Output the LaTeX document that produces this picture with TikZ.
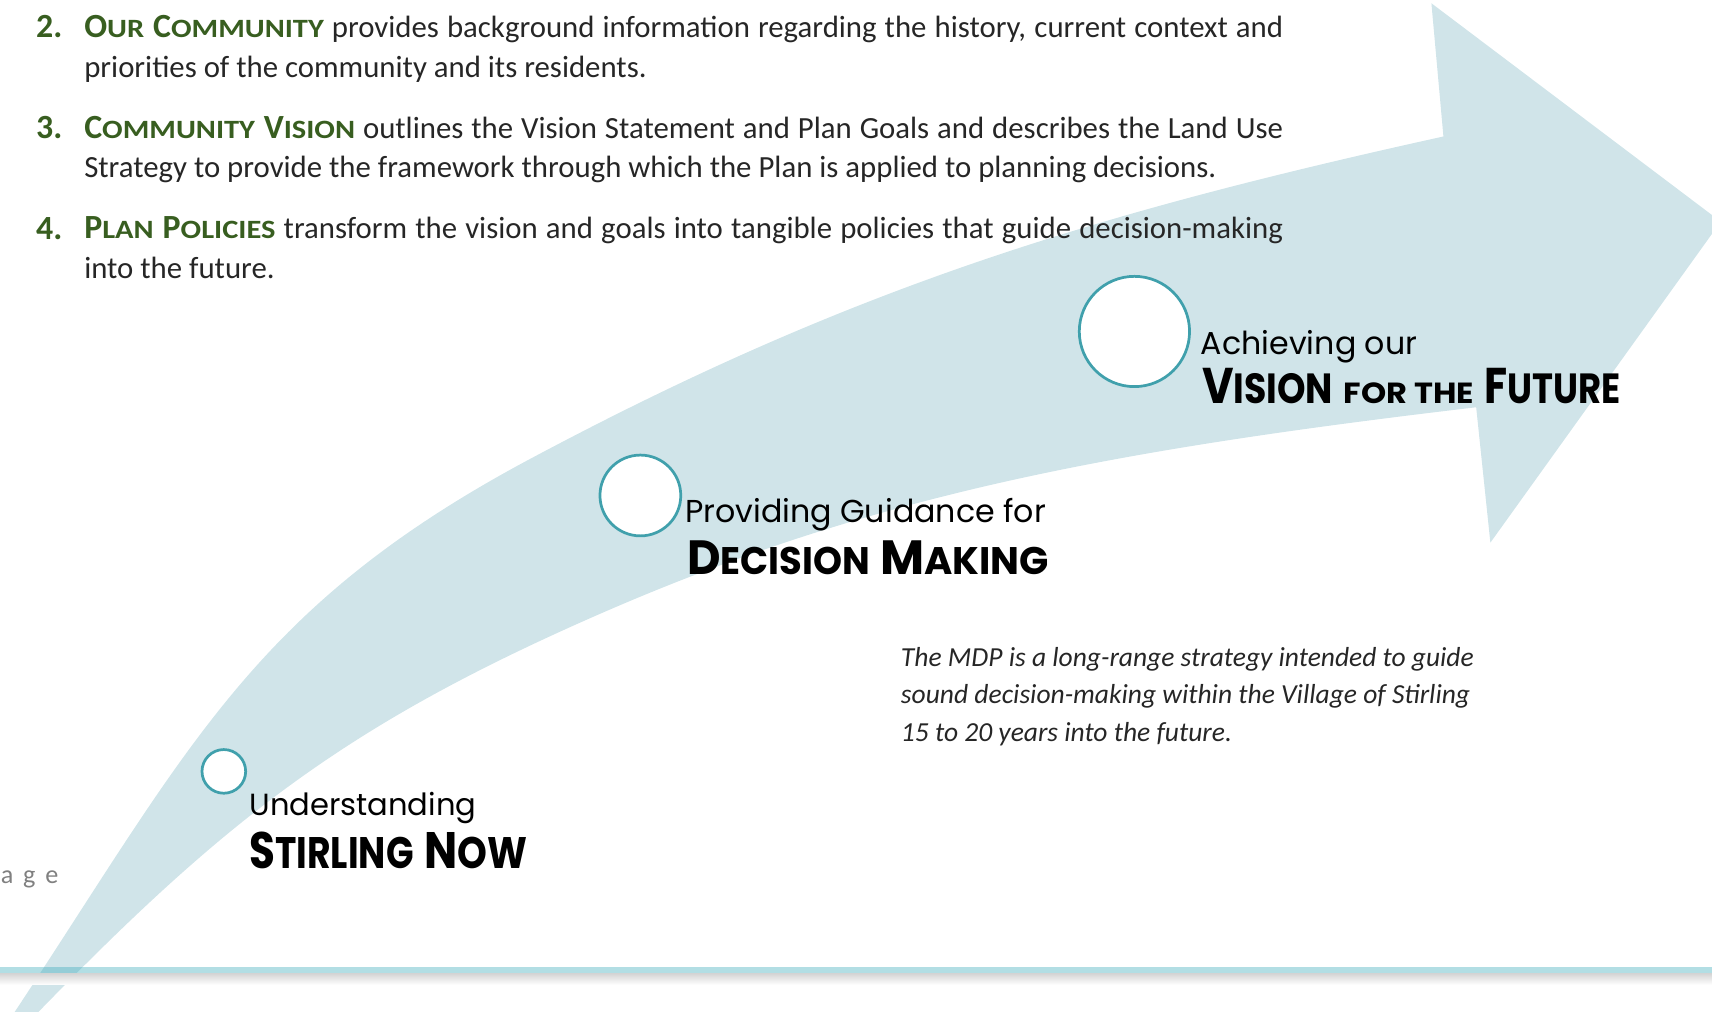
\documentclass[tikz,border=0pt]{standalone}
\usepackage{fontspec}
\setmainfont{Carlito}
\newfontfamily\gothic{Poppins}
\usepackage{graphicx}
\usetikzlibrary{
    calc,
    positioning,
}
\definecolor{BandBlue}{RGB}{208,228,233}
\definecolor{RingTeal}{RGB}{64,160,172}
\definecolor{HeadGreen}{RGB}{56,94,32}
\definecolor{BodyGrey}{RGB}{38,38,38}
\definecolor{RuleTeal}{RGB}{62,172,188}
\newcommand{\sm}[2][0.78]{\scalebox{#1}{#2}}
\newcommand{\hsc}[1]{\scalebox{0.9}[0.78]{#1}}
\newcommand{\squeeze}[2]{\scalebox{#1}[1]{#2}}
\newcommand{\Head}[1]{{\color{HeadGreen}\bfseries\fontsize{31}{36.5}\selectfont #1}}
\tikzstyle{milestone}=[circle,draw=RingTeal,fill=white,line width=2.5pt,inner sep=0pt]
\tikzstyle{itemno}=[anchor=base west,inner sep=0pt,text=HeadGreen,font=\bfseries\fontsize{31}{36.5}\selectfont]
\tikzstyle{itemtext}=[anchor=base west,inner sep=0pt,align=left,text=BodyGrey,font=\fontsize{28.2}{36.5}\selectfont]
\tikzstyle{thin label}=[anchor=base west,inner sep=0pt,font=\gothic\fontsize{29}{29}\selectfont]
\tikzstyle{bold label}=[anchor=base west,inner sep=0pt,font=\gothic\bfseries\fontsize{44}{44}\selectfont]
\begin{document}
\begin{tikzpicture}[x=1pt,y=-1pt]
    \useasboundingbox (0,0) rectangle (1568,926);
    \clip (0,0) rectangle (1568,926);

    % Arrow
    \fill[BandBlue] (5,940) -- (14,926)
        .. controls (174,684) and (232,555) .. (488,419)
        .. controls (779,264) and (1000,196) .. (1322,125)
        -- (1311,3) -- (1576,203) -- (1365,497) -- (1352,373)
        .. controls (1022,412) and (802,452) .. (550,562)
        .. controls (321,662) and (210,747) .. (36,926)
        -- (22,940) -- cycle;

    % Footer rule
    \fill[RuleTeal,opacity=0.4] (0,885.5) rectangle (1568,892);
    \shade[top color=black!16,bottom color=white] (0,892) rectangle (1568,902);
    \node[anchor=base west,inner sep=0pt,text=black!50,font=\fontsize{24}{24}\selectfont] (page) at (0.5,809) {a\hspace{9pt}g\hspace{9pt}e};

    % List (base = last line)
    \node[itemno] (num2) at (33,34) {2.};
    \node[itemtext] (item2) at (77,71) {\makebox[1098pt][s]{\Head{O\hsc{UR} C\hsc{OMMUNITY}} provides background information regarding the history, current context and}\\priorities of the community and its residents.};
    \node[itemno] (num3) at (33,127) {3.};
    \node[itemtext] (item3) at (77,163) {\makebox[1098pt][s]{\Head{C\hsc{OMMUNITY} V\hsc{ISION}} outlines the Vision Statement and Plan Goals and describes the Land Use}\\Strategy to provide the framework through which the Plan is applied to planning decisions.};
    \node[itemno] (num4) at (33,219) {4.};
    \node[itemtext] (item4) at (77,255) {\makebox[1098pt][s]{\Head{P\hsc{LAN} P\hsc{OLICIES}} transform the vision and goals into tangible policies that guide decision-making}\\into the future.};

    % Milestones
    \node[milestone,minimum size=40pt] (now) at (205,706.5) {};
    \node[milestone,minimum size=74pt] (decision) at (586.5,453.8) {};
    \node[milestone,minimum size=101pt] (vision) at (1039,303.6) {};

    \node[thin label,font=\gothic\fontsize{28}{28}\selectfont] (now text) at ([shift={(2,40.5)}]now.east) {Understanding};
    \node[bold label,font=\gothic\bfseries\fontsize{47}{47}\selectfont] (now title) at ([shift={(2,88.5)}]now.east)
        {\squeeze{0.82}{S\sm[0.86]{TIRLING}} \squeeze{0.86}{N\sm[0.86]{OW}}};
    \node[thin label] (decision text) at ([shift={(2.5,25)}]decision.east) {Providing Guidance for};
    \node[bold label] (decision title) at ([shift={(4.5,72)}]decision.east)
        {\squeeze{0.96}{D\sm[0.8]{ECISION}} M\sm[0.8]{AKING}};
    \node[thin label] (vision text) at ([shift={(9,21)}]vision.east) {Achieving our};
    \node[bold label,font=\gothic\bfseries\fontsize{46}{46}\selectfont] (vision title) at ([shift={(10,65.5)}]vision.east)
        {\squeeze{0.86}{V\sm[0.84]{ISION}} \squeeze{1.1}{\sm[0.58]{FOR THE}} \squeeze{0.84}{F\sm[0.84]{UTURE}}};

    % Note
    \node[anchor=base west,inner sep=0pt,align=left,text=BodyGrey,font=\itshape\fontsize{25.2}{34.5}\selectfont] (note) at (825,679)
        {The MDP is a long-range strategy intended to guide\\sound decision-making within the Village of Stirling\\15 to 20 years into the future.};
\end{tikzpicture}
\end{document}
